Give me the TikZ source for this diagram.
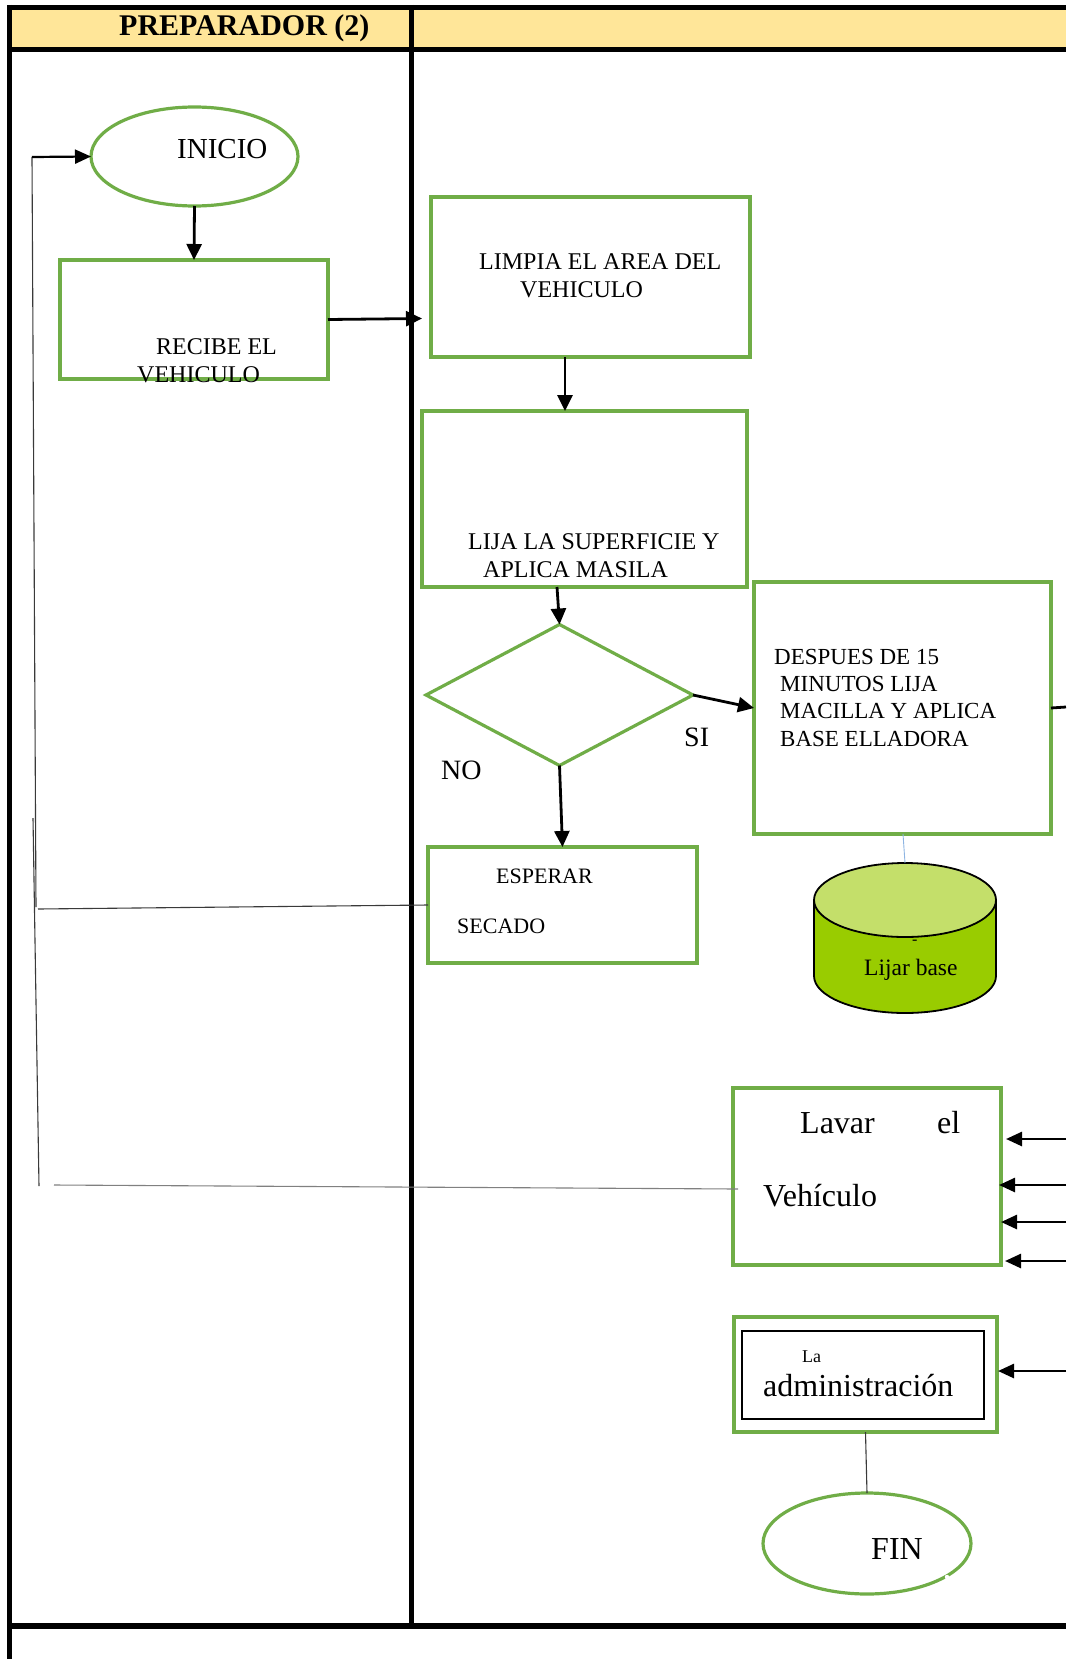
\documentclass[tikz,border=0pt]{standalone}
\usepackage{fontspec}
\setmainfont{Liberation Serif}
\usetikzlibrary{arrows.meta,shapes.geometric}
\definecolor{lanegreen}{HTML}{70AD47}
\definecolor{headyellow}{HTML}{FFE699}
\definecolor{cyltop}{HTML}{C4DF6A}
\definecolor{cylbody}{HTML}{99CC00}
\definecolor{linkblue}{HTML}{8DB4E2}
\definecolor{linkgray}{HTML}{3A3A3A}

\begin{document}
\begin{tikzpicture}[x=1pt,y=-1pt,
  flowbox/.style={draw=lanegreen,line width=3.2pt,rectangle,inner sep=0pt,outer sep=0pt},
  term/.style={draw=lanegreen,line width=3.2pt,ellipse,inner sep=0pt,outer sep=0pt},
  txt/.style={inner sep=0pt,anchor=base west},
  flow/.style={line width=2.8pt,-{Triangle[length=16pt,width=15pt]}},
  lane/.style={line width=5pt},
  thinlink/.style={line width=1.1pt,draw=linkgray}
]
\useasboundingbox (0,0) rectangle (1066,1659);

% swimlane frame and header
\fill[headyellow] (9,9) rectangle (1066,48);
\draw[lane] (7,7.5) -- (1066,7.5);
\draw[lane] (7,50) -- (1066,50);
\draw[lane] (9,5) -- (9,1659);
\draw[lane] (411,5) -- (411,1629);
\draw[lane,line width=5.5pt] (7,1626) -- (1066,1626);
\node[txt,font=\bfseries\fontsize{30}{34}\selectfont] (title) at (119,36) {PREPARADOR (2)};

% process boxes
\node[term,minimum width=207pt,minimum height=99pt] (inicio) at (194.5,156.5) {};
\node[txt,font=\fontsize{29}{33}\selectfont] (inicio-t) at (177,158) {INICIO};

\node[flowbox,minimum width=268pt,minimum height=119pt] (recibe) at (194,319.5) {};
\node[txt,font=\fontsize{24}{28}\selectfont] (recibe-t1) at (156,354) {RECIBE EL};
\node[txt,font=\fontsize{24}{28}\selectfont] (recibe-t2) at (137,382) {VEHICULO};

\node[flowbox,minimum width=319pt,minimum height=160pt] (limpia) at (590.5,277) {};
\node[txt,font=\fontsize{24}{28}\selectfont] (limpia-t1) at (479,269) {LIMPIA EL AREA DEL};
\node[txt,font=\fontsize{24}{28}\selectfont] (limpia-t2) at (520,297) {VEHICULO};

\node[flowbox,minimum width=325pt,minimum height=176pt] (lija) at (584.5,499) {};
\node[txt,font=\fontsize{24}{28}\selectfont] (lija-t1) at (468,549) {LIJA LA SUPERFICIE Y};
\node[txt,font=\fontsize{24}{28}\selectfont] (lija-t2) at (483,577) {APLICA MASILA};

\node[draw=lanegreen,line width=3.2pt,diamond,minimum width=267pt,minimum height=141pt,
      inner sep=0pt,outer sep=0pt] (decide) at (559.5,695) {};
\node[txt,font=\fontsize{28}{32}\selectfont] (si) at (684,746) {SI};
\node[txt,font=\fontsize{28}{32}\selectfont] (no) at (441,779) {NO};

\node[flowbox,minimum width=297pt,minimum height=252pt] (despues) at (902.5,708) {};
\node[txt,font=\fontsize{23}{27}\selectfont] (despues-t1) at (774,664) {DESPUES DE 15};
\node[txt,font=\fontsize{23}{27}\selectfont] (despues-t2) at (780,691) {MINUTOS LIJA};
\node[txt,font=\fontsize{23}{27}\selectfont] (despues-t3) at (780,718) {MACILLA Y APLICA};
\node[txt,font=\fontsize{23}{27}\selectfont] (despues-t4) at (780,746) {BASE ELLADORA};

\node[flowbox,minimum width=269pt,minimum height=116pt] (esperar) at (562.5,905) {};
\node[txt,font=\fontsize{22}{26}\selectfont] (esperar-t1) at (496,883) {ESPERAR};
\node[txt,font=\fontsize{22}{26}\selectfont] (esperar-t2) at (457,933) {SECADO};

% storage cylinder
\fill[cylbody] (814,900) rectangle (996,976);
\fill[cylbody] (905,976) ellipse [x radius=91, y radius=37];
\begin{scope}
  \clip (800,976) rectangle (1010,1030);
  \draw[line width=1.8pt] (905,976) ellipse [x radius=91, y radius=37];
\end{scope}
\draw[line width=1.8pt] (814,900) -- (814,976) (996,900) -- (996,976);
\filldraw[fill=cyltop,line width=1.8pt] (905,900) ellipse [x radius=91, y radius=37];
\coordinate (cyltop) at (905,863);
\node[txt,font=\fontsize{16}{18}\selectfont] (cyl-dash) at (912,944) {-};
\node[txt,font=\fontsize{23.5}{27}\selectfont] (cyl-t) at (864,975) {Lijar base};

\node[flowbox,minimum width=268pt,minimum height=177pt] (lavar) at (867,1176.5) {};
\node[txt,font=\fontsize{32}{36}\selectfont] (lavar-t1) at (800,1133) {Lavar};
\node[txt,font=\fontsize{32}{36}\selectfont] (lavar-t2) at (937,1133) {el};
\node[txt,font=\fontsize{32}{36}\selectfont] (lavar-t3) at (763,1206) {Vehículo};

\node[flowbox,minimum width=263pt,minimum height=115pt] (admin) at (865.5,1374.5) {};
\node[draw,line width=2pt,rectangle,inner sep=0pt,outer sep=0pt,
      minimum width=242pt,minimum height=88pt] (admin-in) at (863,1375) {};
\node[txt,font=\fontsize{18}{21}\selectfont] (admin-t1) at (802,1362) {La};
\node[txt,font=\fontsize{32}{36}\selectfont] (admin-t2) at (763,1396) {administración};

\node[term,minimum width=208pt,minimum height=101pt] (fin) at (867,1543.5) {};
\node[txt,font=\fontsize{32}{36}\selectfont] (fin-t) at (871,1559) {FIN};
\fill[white] (947,1577) circle (2.2pt);

% free ends of connectors
\coordinate (loopTop) at (32,157);
\coordinate (loopMid) at (36,907);
\coordinate (loopA) at (33,818);
\coordinate (loopB) at (39,1186);
\coordinate (waitOut) at (38,909);
\coordinate (washOut) at (54,1185);
\coordinate (washIn) at (738,1189);
\coordinate (limpiaIn) at (422,318.5);
\coordinate (despuesOut) at (1066,707);
\coordinate (src1) at (1066,1139);
\coordinate (src2) at (1066,1185);
\coordinate (src3) at (1066,1222);
\coordinate (src4) at (1066,1261);
\coordinate (src5) at (1066,1371);
\coordinate (dst1) at (1006,1139);
\coordinate (dst2) at (999,1185);
\coordinate (dst3) at (1001,1222);
\coordinate (dst4) at (1005,1261);
\coordinate (dst5) at (998,1371);

% main flow
\draw[flow] (inicio.south) -- (recibe.north);
\draw[flow] (recibe.east) -- (limpiaIn);
\draw[flow] ([xshift=-25.5pt]limpia.south) -- ([xshift=-19.5pt]lija.north);
\draw[flow] ([xshift=-27.5pt]lija.south) -- (decide.north);
\draw[flow] (decide.east) -- (despues.west);
\draw[flow] (decide.south) -- (esperar.north);
\draw[line width=2.8pt] (despues.east) -- (despuesOut);
\draw[line width=0.9pt,linkblue] ([xshift=0.5pt]despues.south) -- (cyltop);

% return loop on the left
\draw[thinlink] (loopTop) -- (loopMid);
\draw[thinlink] (loopA) -- (loopB);
\draw[thinlink] (waitOut) -- (esperar.west);
\draw[thinlink,draw=gray] (washOut) -- (washIn);
\draw[line width=2.2pt,-{Triangle[length=16pt,width=14pt]}] (loopTop) -- (inicio.west);

% inputs from the next lane
\foreach \i in {1,...,5}{
  \draw[line width=2.6pt,-{Triangle[length=16pt,width=14pt]}] (src\i) -- (dst\i);
}
\draw[thinlink] (admin.south) -- (fin.north);
\end{tikzpicture}
\end{document}
